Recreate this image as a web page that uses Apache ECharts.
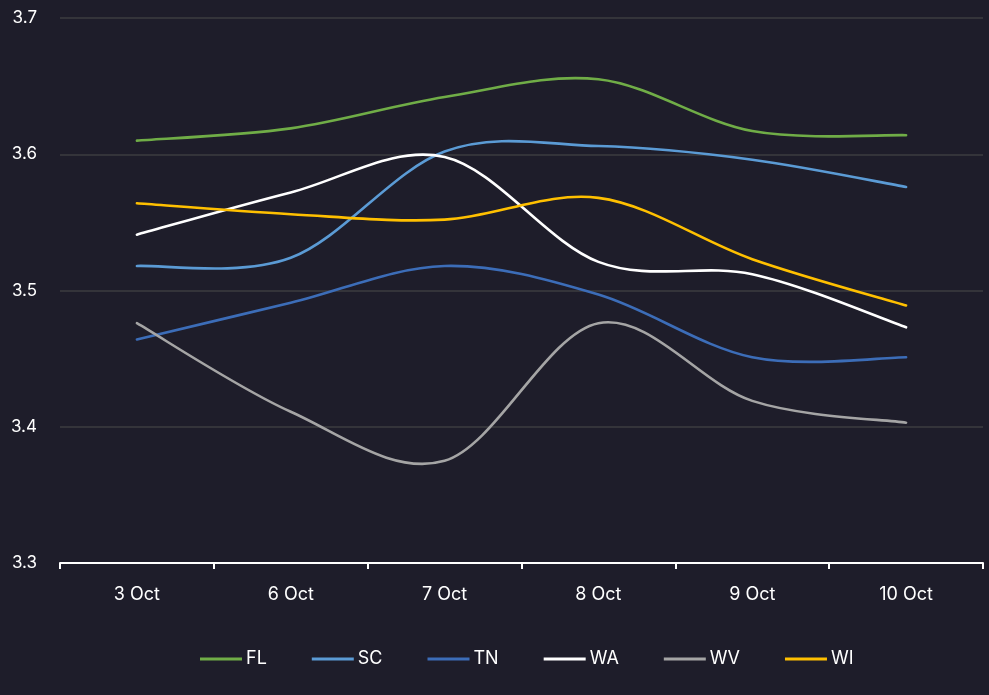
<!DOCTYPE html>
<html><head><meta charset="utf-8">
<script src="https://cdn.jsdelivr.net/npm/echarts@6/dist/echarts.min.js"></script>
<style>html,body{margin:0;padding:0;background:#1e1d2a;}#c{width:989px;height:695px;}</style>
</head><body><div id="c"></div>
<script>
const categories = ['3 Oct','6 Oct','7 Oct','8 Oct','9 Oct','10 Oct'];
const FL = [3.610, 3.619, 3.642, 3.655, 3.617, 3.614];
const SC = [3.518, 3.524, 3.602, 3.606, 3.596, 3.576];
const TN = [3.464, 3.491, 3.518, 3.497, 3.451, 3.451];
const WA = [3.541, 3.572, 3.598, 3.521, 3.512, 3.473];
const WV = [3.476, 3.411, 3.375, 3.476, 3.419, 3.403];
const WI = [3.564, 3.556, 3.552, 3.568, 3.523, 3.489];
const seriesDefs = [
  ['FL', FL, '#70ad47'],
  ['SC', SC, '#5b9bd5'],
  ['TN', TN, '#3c6db8'],
  ['WA', WA, '#ffffff'],
  ['WV', WV, '#a5a5a5'],
  ['WI', WI, '#ffc000']
];
const FONT = 'Inter';
// Smooth (Catmull-Rom style) curve drawn through the axis-mapped data points
function makeRender(values, color) {
  return function (params, api) {
    if (params.dataIndex !== 0) return null;
    const pts = values.map((v, k) => api.coord([k, v]));
    const n = pts.length;
    let d = 'M' + pts[0][0] + ',' + pts[0][1];
    for (let i = 0; i < n - 1; i++) {
      const p0 = pts[Math.max(i - 1, 0)], p1 = pts[i], p2 = pts[i + 1], p3 = pts[Math.min(i + 2, n - 1)];
      const c1x = p1[0] + (p2[0] - p0[0]) / 6, c1y = p1[1] + (p2[1] - p0[1]) / 6;
      const c2x = p2[0] - (p3[0] - p1[0]) / 6, c2y = p2[1] - (p3[1] - p1[1]) / 6;
      d += ' C' + c1x + ',' + c1y + ' ' + c2x + ',' + c2y + ' ' + p2[0] + ',' + p2[1];
    }
    return {
      type: 'path',
      shape: {pathData: d},
      style: {stroke: color, lineWidth: 2.6, fill: null, lineCap: 'round', lineJoin: 'round'}
    };
  };
}
const chart = echarts.init(document.getElementById('c'));
chart.setOption({
  backgroundColor: '#1e1d2a',
  animation: false,
  grid: {left: 60, right: 6, top: 18, bottom: 132},
  legend: {
    top: 645, left: 195, icon: 'rect', itemWidth: 42, itemHeight: 3, itemGap: 45,
    textStyle: {color: '#ffffff', fontSize: 18, fontFamily: FONT, padding: [0, 0, 0, -1]},
    data: seriesDefs.map(d => d[0])
  },
  xAxis: {
    type: 'category', data: categories, boundaryGap: true,
    axisLine: {lineStyle: {color: '#ffffff', width: 2}},
    axisTick: {show: true, length: 6, lineStyle: {color: '#ffffff', width: 2}},
    axisLabel: {color: '#ffffff', fontSize: 18, margin: 23, fontFamily: FONT}
  },
  yAxis: {
    type: 'value', min: 3.3, max: 3.7, interval: 0.1,
    axisLine: {show: false}, axisTick: {show: false},
    splitLine: {lineStyle: {color: '#3c3c40', width: 1.5}},
    axisLabel: {color: '#ffffff', fontSize: 17, margin: 23, fontFamily: FONT,
      formatter: v => v.toFixed(1)}
  },
  series: seriesDefs.map(d => ({
    name: d[0], type: 'custom',
    data: d[1].map((v, k) => [k, v]),
    encode: {x: 0, y: 1},
    itemStyle: {color: d[2]},
    renderItem: makeRender(d[1], d[2])
  }))
});
</script></body></html>
